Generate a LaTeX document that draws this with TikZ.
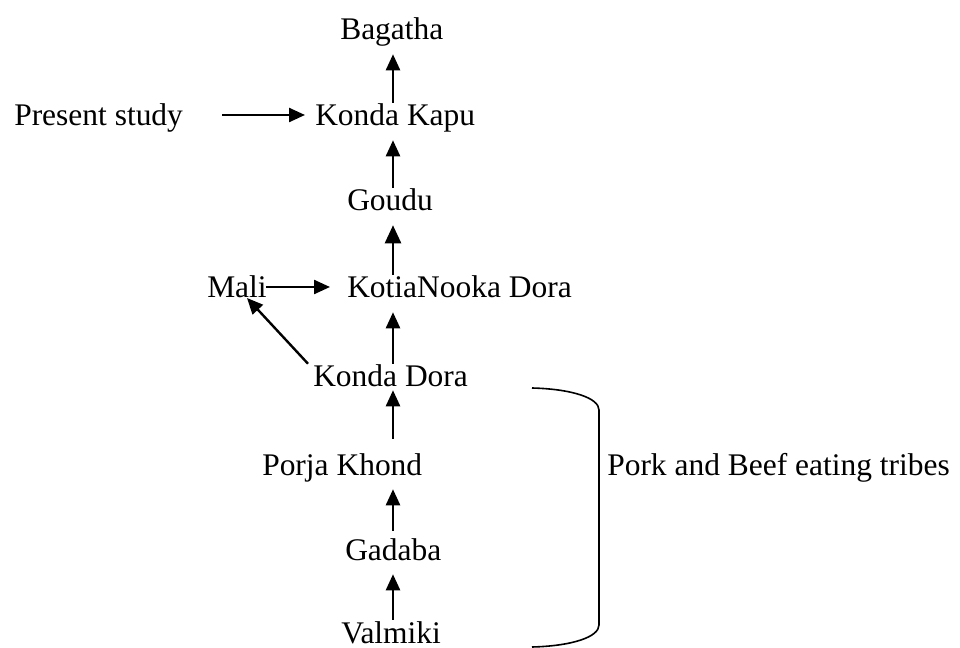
\documentclass[tikz,border=0pt]{standalone}
\usepackage{fontspec}
\setmainfont{Liberation Serif}
\usetikzlibrary{arrows.meta}
\tikzset{
  lbl/.style={inner xsep=0pt, inner ysep=1.5pt, text height=15.75pt, text depth=9pt,
              font=\fontsize{23.6}{28}\selectfont},
  arr/.style={-{Triangle[length=12pt,width=10.5pt]}, line width=1.8pt},
  bracket/.style={line width=1.2pt}
}
\begin{document}
\begin{tikzpicture}[x=0.75pt,y=-0.75pt]
\useasboundingbox (0,0) rectangle (960,648);
\coordinate (axis) at (393,0);

% the tribes, bottom to top
\node[lbl, anchor=base west] (bagatha) at (340,40)  {Bagatha};
\node[lbl, anchor=base west] (kapu)    at (315,126) {Konda Kapu};
\node[lbl, anchor=base west] (present) at (14,126)  {Present study};
\node[lbl, anchor=base west] (goudu)   at (347,211) {Goudu};
\node[lbl, anchor=base west] (mali)    at (207,298) {Mali};
\node[lbl, anchor=base west] (kotia)   at (347,298) {KotiaNooka Dora};
\node[lbl, anchor=base west] (kdora)   at (313,387) {Konda Dora};
\node[lbl, anchor=base west] (porja)   at (262,475) {Porja Khond};
\node[lbl, anchor=base west] (tribes)  at (607,475) {Pork and Beef eating tribes};
\node[lbl, anchor=base west] (gadaba)  at (345,560) {Gadaba};
\node[lbl, anchor=base west, text depth=4pt] (valmiki) at (341,643) {Valmiki};

% upward chain
\draw[arr] (kapu.north -| axis) -- (bagatha.south -| axis);
\draw[arr] (goudu.north -| axis) -- (kapu.south -| axis);
\draw[arr, -{Triangle[length=13.5pt,width=12pt]}] (kotia.north -| axis) -- (goudu.south -| axis);
\draw[arr] (kdora.north -| axis) -- (kotia.south -| axis);
\draw[arr] ([yshift=9.75pt]porja.north -| axis) -- ([yshift=8.25pt]kdora.south -| axis);
\draw[arr] ([yshift=4.5pt]gadaba.north -| axis) -- (porja.south -| axis);
\draw[arr] (valmiki.north -| axis) -- (gadaba.south -| axis);

% side links
\draw[arr] ([xshift=29.25pt,yshift=8.25pt]present.base east) -- ([xshift=-7.5pt,yshift=8.25pt]kapu.base west);
\draw[arr] ([xshift=-0.75pt,yshift=8.25pt]mali.base east) -- ([xshift=-12.75pt,yshift=8.25pt]kotia.base west);
\draw[arr] ([xshift=-3.75pt]kdora.north west) -- ([xshift=30pt]mali.base west);

% bracket grouping the lower tribes
\draw[bracket] (532,388) .. controls (572,389) and (599,398) .. (599,410)
  -- (599,625) .. controls (599,637) and (572,646) .. (532,647);
\end{tikzpicture}
\end{document}
